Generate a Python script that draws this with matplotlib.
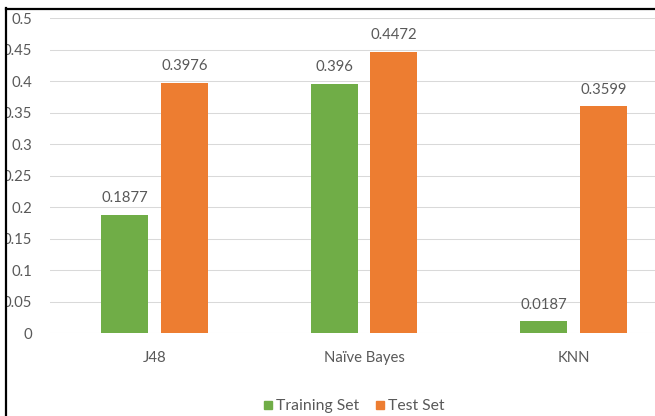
import numpy as np
import matplotlib
matplotlib.use("Agg")
import matplotlib.pyplot as plt
from matplotlib.patches import Rectangle
from matplotlib.lines import Line2D

# data
classifiers = ["J48", "Naïve Bayes", "KNN"]
training_set = [0.1877, 0.396, 0.0187]
test_set = [0.3976, 0.4472, 0.3599]
series_names = ["Training Set", "Test Set"]
yticks = [0, 0.05, 0.1, 0.15, 0.2, 0.25, 0.3, 0.35, 0.4, 0.45, 0.5]

GREEN = "#70AD47"
ORANGE = "#ED7D31"
TXT = "#595959"
GRID = "#D9D9D9"

plt.rcParams['font.family'] = ['Lato', 'DejaVu Sans']
fs = 10.7

fig = plt.figure(figsize=(6.55, 4.16), dpi=100)
ax = fig.add_axes([0.076, 0.1995, 0.9595, 0.7565])

x = np.arange(len(classifiers))
w = 0.224
off = 0.142
b1 = ax.bar(x - off, training_set, w, color=GREEN, zorder=2)
b2 = ax.bar(x + off, test_set, w, color=ORANGE, zorder=2)

for bars, vals in [(b1, training_set), (b2, test_set)]:
    for r, v in zip(bars, vals):
        ax.annotate('%g' % v, (r.get_x() + r.get_width() / 2, v),
                    xytext=(0, 7), textcoords='offset points',
                    ha='center', va='bottom', color=TXT, fontsize=fs)

ax.set_xlim(-0.5, 2.5)
ax.set_ylim(0, 0.5)
ax.set_yticks(yticks)
ax.set_yticklabels(['%g' % t for t in yticks])
ax.set_xticks(x)
ax.set_xticklabels(classifiers)
ax.tick_params(axis='y', length=0, pad=12.8, labelsize=fs, labelcolor=TXT)
ax.tick_params(axis='x', length=0, pad=13, labelsize=fs, labelcolor=TXT)
ax.grid(axis='y', color=GRID, linewidth=0.75, zorder=0)
for s in ax.spines.values():
    s.set_visible(False)

handles = [Line2D([], [], marker='s', linestyle='none', markersize=5.8, color=c)
           for c in (GREEN, ORANGE)]
fig.legend(handles, series_names, loc='center', bbox_to_anchor=(354 / 655, 1 - 406 / 416),
           ncol=2, frameon=False, fontsize=11.3, labelcolor=TXT,
           handlelength=0.5, handletextpad=0.25, columnspacing=1.1)

# screenshot border: white strip and black line on the left, black line on top
fig.add_artist(Rectangle((0, 0), 5 / 655, 1, transform=fig.transFigure,
                         facecolor='white', edgecolor='none', zorder=5))
fig.add_artist(Line2D([6 / 655, 6 / 655], [0, 1 - 8 / 416], transform=fig.transFigure,
                      color='black', linewidth=1.6, zorder=6))
fig.add_artist(Line2D([6 / 655, 1], [1 - 8.5 / 416, 1 - 8.5 / 416], transform=fig.transFigure,
                      color='black', linewidth=1.6, zorder=6))
fig.add_artist(Rectangle((0, 1 - 8 / 416), 1, 8 / 416, transform=fig.transFigure,
                         facecolor='white', edgecolor='none', zorder=5))

fig.savefig("out.png", dpi=100)
